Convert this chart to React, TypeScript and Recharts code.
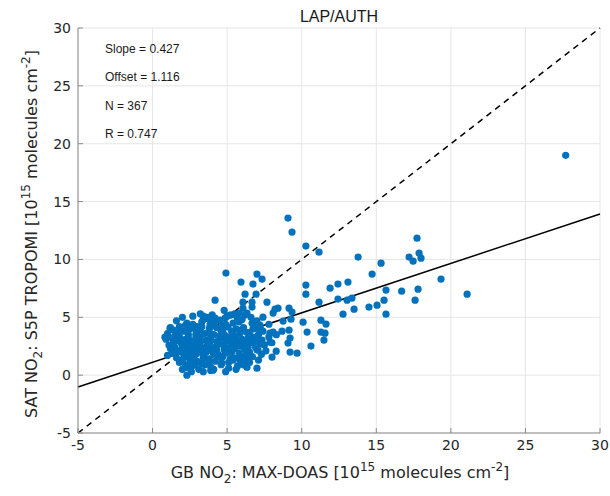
import { ScatterChart, Scatter, XAxis, YAxis, CartesianGrid, ReferenceLine } from "recharts";

const axisTicks = [-5, 0, 5, 10, 15, 20, 25, 30];
const slope = 0.427;
const offset = 1.116;
const nPoints = 367;
const rValue = 0.747;
const stationName = "LAP/AUTH";

// dense blob near the origin
const clusterCore: [number, number][] = [
  [0.9, 3.1], [1.0, 3.6], [1.2, 4.1], [1.2, 2.3], [1.0, 1.7], [1.4, 2.8], [1.6, 1.5], [1.6, 3.0], [1.7, 3.7], [1.3, 2.0],
  [1.5, 2.4], [1.8, 1.1], [1.9, 2.0], [1.8, 3.3], [2.0, 5.0], [2.7, 5.1], [2.3, 4.5], [2.3, 0.7], [2.8, 0.9], [2.3, 0.0],
  [2.1, 1.6], [2.2, 2.6], [2.4, 3.2], [2.0, 3.9], [2.5, 1.3], [2.6, 2.0], [2.7, 2.9], [2.9, 3.5], [2.5, 4.0], [2.2, 1.9],
  [2.4, 2.3], [2.6, 1.6], [2.9, 1.1], [3.0, 2.2], [3.1, 2.7], [3.2, 3.3], [3.0, 4.2], [3.3, 4.6], [3.4, 5.1], [3.7, 5.0],
  [3.5, 1.5], [3.6, 2.0], [3.3, 1.0], [3.1, 0.5], [3.4, 0.3], [3.9, 0.4], [3.8, 1.2], [3.7, 2.5], [3.9, 3.0], [3.8, 3.7],
  [4.0, 4.3], [4.2, 4.7], [4.1, 1.8], [4.3, 2.2], [4.4, 2.8], [4.5, 3.4], [4.2, 1.2], [4.6, 0.9], [4.7, 1.6], [1.6, 4.7],
  [3.2, 5.3], [3.6, 4.9], [4.0, 5.2], [1.4, 3.9], [1.8, 4.2], [2.1, 3.8], [2.5, 4.1], [2.9, 3.9], [3.3, 4.2], [3.8, 4.0],
  [4.3, 4.1], [2.4, 3.5], [3.0, 3.4], [3.5, 3.6], [4.1, 3.5], [4.6, 3.8], [1.3, 3.2], [1.9, 2.8], [2.2, 3.1], [2.6, 2.9],
  [2.9, 3.2], [3.2, 2.8], [3.6, 3.0], [3.9, 3.3], [4.3, 2.9], [1.1, 2.6], [2.0, 2.4], [2.4, 2.6], [2.8, 2.4], [3.4, 2.3],
  [3.8, 2.6], [4.2, 2.4], [4.5, 2.7], [1.4, 1.9], [1.7, 2.1], [2.1, 1.9], [2.5, 2.1], [2.9, 1.8], [3.2, 2.0], [4.0, 2.1],
  [4.4, 1.8], [2.0, 1.3], [2.3, 1.6], [2.7, 1.4], [3.0, 1.2], [3.4, 1.5], [3.8, 1.4], [4.6, 1.5], [2.2, 0.9], [2.6, 0.8],
  [3.5, 0.9], [3.9, 0.7], [2.0, 0.5], [2.6, 0.3], [4.1, 0.5], [1.5, 3.4], [2.2, 4.3], [2.7, 4.4], [3.4, 4.8], [3.9, 4.6],
  [5.3, 3.8], [4.8, 2.2], [5.6, 3.3], [6.1, 4.1], [5.9, 1.2], [6.4, 2.4], [4.9, 1.9], [5.5, 2.3], [6.2, 2.9], [7.1, 3.5],
  [5.1, 1.1], [5.7, 1.5], [6.5, 2.0], [7.3, 2.7], [4.8, 3.5], [5.3, 2.6], [6.8, 3.1], [5.6, 0.5], [6.1, 0.9], [7.1, 1.3],
  [4.9, 0.3], [5.4, 4.5], [6.0, 4.8], [6.6, 5.0], [7.0, 4.7], [5.0, 3.3], [5.7, 2.9], [6.3, 1.4], [6.9, 2.4], [7.4, 3.8],
  [4.7, 4.3], [5.2, 2.9], [5.9, 3.9], [6.5, 3.5], [7.6, 2.1], [6.2, 5.2], [5.5, 5.3], [4.8, 5.6], [7.2, 4.1], [7.8, 4.4],
  [3.51, 5.01], [4.19, 4.93], [4.52, 4.75], [3.85, 4.32], [3.18, 3.89], [3.65, 3.03],
  [4.52, 3.2], [4.2, 2.42], [3.38, 1.73], [4.39, 1.73], [4.65, 1.04], [4.05, 0.43], [2.84, 0.86], [2.31, 0.69], [1.17, 4.06], [0.83, 3.28],
];

// right side of the blob
const clusterEdge: [number, number][] = [
  [4.86, 2.42], [5.06, 4.15], [5.19, 5.19], [5.66, 5.01], [6.33, 5.36], [6.67, 5.88], [6.06, 6.31], [4.19, 6.48], [5.39, 3.03], [5.86, 3.63],
  [6.53, 3.28], [6.99, 4.06], [6.67, 4.49], [6.06, 2.6], [6.87, 2.77], [6.33, 1.9], [5.33, 1.56], [5.4, 1.3], [6.2, 0.86], [6.33, 0.69],
  [7.0, 0.6], [7.07, 2.16], [8.29, 2.07], [9.22, 1.99], [9.69, 1.9], [8.01, 1.56], [8.68, 3.8], [7.87, 3.63], [7.2, 4.32], [4.9, 4.4],
  [5.0, 5.1], [5.2, 1.4], [5.3, 2.0], [5.5, 2.7], [5.4, 3.5], [5.6, 4.0], [5.8, 4.6], [5.1, 0.6], [5.7, 0.8], [6.0, 1.6],
  [6.2, 2.2], [6.0, 3.1], [6.3, 3.7], [6.5, 1.1], [6.6, 2.8], [6.8, 4.2], [7.0, 2.2], [4.8, 2.5], [4.9, 3.0], [4.7, 3.9],
  [5.9, 2.5], [6.4, 3.2], [7.2, 3.0], [7.5, 2.6], [7.8, 3.3], [8.0, 2.8], [8.3, 3.5], [7.3, 1.8], [5.0, 2.3], [5.2, 3.0],
  [5.8, 1.9], [6.7, 1.6], [7.27, 3.89], [6.73, 3.98], [9.15, 3.89], [9.22, 3.2], [9.08, 2.77], [7.87, 2.85], [7.34, 3.03], [6.73, 3.28],
  [8.08, 3.72], [7.4, 5.01], [6.06, 5.79], [5.79, 5.36], [5.26, 5.19], [4.86, 4.93], [8.75, 4.67], [9.28, 4.84], [8.21, 5.7], [8.41, 5.79],
  [8.08, 5.36], [9.15, 5.79], [9.35, 5.45],
];

const midScatter: [number, number][] = [
  [4.92, 8.82], [7.0, 8.73], [7.34, 8.3], [5.93, 8.04], [6.73, 7.87], [6.2, 7.0], [6.94, 7.0], [7.67, 6.31], [6.67, 6.31], [9.08, 13.57],
  [9.35, 12.36], [10.28, 11.15], [11.16, 10.63], [10.28, 7.78], [10.28, 7.0], [11.16, 6.31], [10.09, 4.58], [11.29, 4.75], [11.63, 4.41], [10.36, 3.72],
  [11.29, 3.72], [11.49, 3.03], [10.62, 2.51], [11.56, 3.63],
];

const farScatter: [number, number][] = [
  [13.78, 10.2], [15.32, 9.68], [14.72, 8.73], [17.73, 11.84], [17.2, 10.2], [17.47, 9.85], [17.87, 10.54], [18.0, 10.11], [19.34, 8.3], [21.09, 7.0],
  [17.8, 7.43], [16.7, 7.26], [17.6, 6.48], [11.9, 7.52], [12.43, 7.87], [13.1, 8.04], [15.65, 7.35], [12.43, 6.57], [13.04, 6.48], [13.37, 6.66],
  [15.52, 6.48], [14.51, 5.88], [15.05, 6.05], [13.51, 5.7], [12.77, 5.27], [15.65, 5.27], [27.7, 19.0],
];

const points = [...clusterCore, ...clusterEdge, ...midScatter, ...farScatter].map(([x, y]) => ({ x, y }));

const fitLine = [
  { x: -5, y: offset + slope * -5 },
  { x: 30, y: offset + slope * 30 },
];
const oneToOne = [
  { x: -5, y: -5 },
  { x: 30, y: 30 },
];

const tickStyle = { fontSize: 14, fontFamily: "DejaVu Sans", fill: "#262626" };
const boxColor = "#8a8a8a";

const Dot = (props: any) => <circle cx={props.cx} cy={props.cy} r={3.6} fill="#0072BD" />;

export default function App() {
  return (
    <div style={{ position: "absolute", left: 0, top: 0, width: 610, height: 496, background: "#fff" }}>
      <ScatterChart width={610} height={496} margin={{ top: 28, right: 10, bottom: 0, left: 0 }}>
        <CartesianGrid xAxisId="b" yAxisId="l" stroke="#e6e6e6" />
        <XAxis
          xAxisId="b"
          type="number"
          dataKey="x"
          domain={[-5, 30]}
          ticks={axisTicks}
          height={63}
          tick={tickStyle}
          tickSize={-5}
          tickMargin={12}
          tickLine={{ stroke: boxColor }}
          axisLine={{ stroke: boxColor }}
        />
        <XAxis
          xAxisId="t"
          orientation="top"
          type="number"
          domain={[-5, 30]}
          ticks={axisTicks}
          height={0}
          mirror
          tick={false}
          tickSize={5}
          tickLine={{ stroke: boxColor }}
          axisLine={{ stroke: boxColor }}
        />
        <YAxis
          yAxisId="l"
          type="number"
          dataKey="y"
          domain={[-5, 30]}
          ticks={axisTicks}
          width={78}
          tick={tickStyle}
          tickSize={-5}
          tickMargin={12}
          tickLine={{ stroke: boxColor }}
          axisLine={{ stroke: boxColor }}
        />
        <YAxis
          yAxisId="r"
          orientation="right"
          type="number"
          domain={[-5, 30]}
          ticks={axisTicks}
          width={0}
          mirror
          tick={false}
          tickSize={5}
          tickLine={{ stroke: boxColor }}
          axisLine={{ stroke: boxColor }}
        />
        <Scatter xAxisId="b" yAxisId="l" data={points} shape={Dot} isAnimationActive={false} />
        <ReferenceLine xAxisId="b" yAxisId="l" segment={oneToOne} stroke="#000" strokeWidth={1.5} strokeDasharray="6 5" />
        <ReferenceLine xAxisId="b" yAxisId="l" segment={fitLine} stroke="#000" strokeWidth={1.5} />
      </ScatterChart>
      <svg
        width={610}
        height={496}
        style={{ position: "absolute", left: 0, top: 0, pointerEvents: "none" }}
      >
        <text x={339} y={22} textAnchor="middle" fontFamily="Liberation Sans" fontSize={16} fill="#1a1a1a">
          {stationName}
        </text>
        <g fontFamily="Liberation Sans" fontSize={12} fill="#1a1a1a">
          <text x={105} y={53}>Slope = {slope.toFixed(3)}</text>
          <text x={105} y={81}>Offset = {offset.toFixed(3)}</text>
          <text x={105} y={110}>N = {nPoints}</text>
          <text x={105} y={138}>R = {rValue.toFixed(3)}</text>
        </g>
        <text x={340} y={478} textAnchor="middle" fontFamily="DejaVu Sans" fontSize={16} fill="#262626">
          GB NO<tspan fontSize={12} dy={5}>2</tspan>
          <tspan dy={-5}>: MAX-DOAS [10</tspan>
          <tspan fontSize={12} dy={-7}>15</tspan>
          <tspan dy={7}> molecules cm</tspan>
          <tspan fontSize={12} dy={-7}>-2</tspan>
          <tspan dy={7}>]</tspan>
        </text>
        <text
          transform="translate(37,234) rotate(-90)"
          textAnchor="middle"
          fontFamily="DejaVu Sans"
          fontSize={16}
          fill="#262626"
        >
          SAT NO<tspan fontSize={12} dy={5}>2</tspan>
          <tspan dy={-5}>: S5P TROPOMI [10</tspan>
          <tspan fontSize={12} dy={-7}>15</tspan>
          <tspan dy={7}> molecules cm</tspan>
          <tspan fontSize={12} dy={-7}>-2</tspan>
          <tspan dy={7}>]</tspan>
        </text>
      </svg>
    </div>
  );
}
